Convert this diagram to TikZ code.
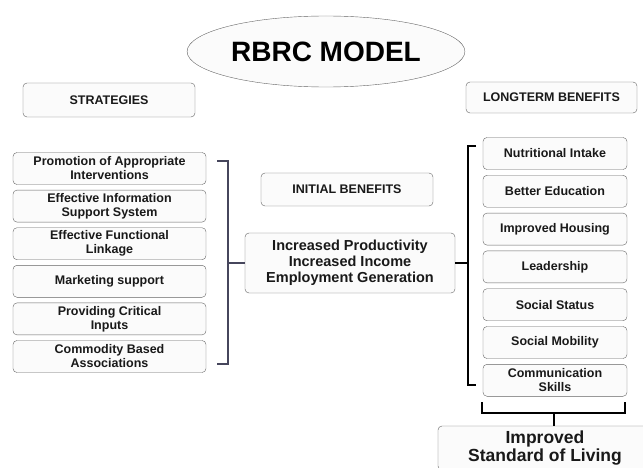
\documentclass[tikz,border=0pt]{standalone}
\usepackage{fontspec}
\setmainfont{Liberation Sans}
\usetikzlibrary{shapes.geometric}
\definecolor{boxline}{RGB}{100,100,100}
\definecolor{bracketblue}{RGB}{70,70,92}
\tikzset{
  box/.style={draw=boxline, fill=gray!3, rounded corners=4pt, align=center,
    inner sep=2pt, text=black!90, font=\bfseries\fontsize{12.5}{14}\selectfont},
  leftbox/.style={box, minimum width=193pt, minimum height=32pt},
  rightbox/.style={box, minimum width=144pt, minimum height=32pt},
  bracket/.style={line width=2.2pt},
}
\begin{document}
\begin{tikzpicture}[x=1pt,y=-1pt]
    \useasboundingbox (0,0) rectangle (643,468);
    \clip (0,0) rectangle (643,468);

    \node[ellipse, draw=boxline, fill=gray!3, minimum width=264pt, minimum height=71pt,
      font=\bfseries\fontsize{28}{30}\selectfont] (title) at (326,51.5) {RBRC MODEL};

    \node[box, minimum width=172pt, minimum height=34pt] (strat) at (109,100) {STRATEGIES};
    \node[box, minimum width=171pt, minimum height=31pt] (longterm) at (551.5,97.5) {LONGTERM BENEFITS};

    \node[leftbox] (s1) at (109.5,168.5) {Promotion of Appropriate\\Interventions};
    \node[leftbox] (s2) at (109.5,206.1) {Effective Information\\Support System};
    \node[leftbox] (s3) at (109.5,243.7) {Effective Functional\\Linkage};
    \node[leftbox] (s4) at (109.5,281.3) {Marketing support};
    \node[leftbox] (s5) at (109.5,318.9) {Providing Critical\\Inputs};
    \node[leftbox] (s6) at (109.5,356.5) {Commodity Based\\Associations};

    \node[box, minimum width=172pt, minimum height=33pt] (initial) at (347,189.5) {INITIAL BENEFITS};
    \node[box, minimum width=210pt, minimum height=60pt,
      font=\bfseries\fontsize{14.5}{16}\selectfont] (gain) at (350,263)
      {Increased Productivity\\Increased Income\\Employment Generation};

    \node[rightbox] (b1) at (555,153.5) {Nutritional Intake};
    \node[rightbox] (b2) at (555,191.3) {Better Education};
    \node[rightbox] (b3) at (555,229.1) {Improved Housing};
    \node[rightbox] (b4) at (555,266.9) {Leadership};
    \node[rightbox] (b5) at (555,304.7) {Social Status};
    \node[rightbox] (b6) at (555,342.5) {Social Mobility};
    \node[rightbox] (b7) at (555,380.3) {Communication\\Skills};

    \node[box, minimum width=214pt, minimum height=44pt,
      font=\bfseries\fontsize{17.5}{18}\selectfont] (living) at (545,448)
      {Improved\\Standard of Living};

    \coordinate (lt) at (217,161);
    \coordinate (ltc) at (228,161);
    \coordinate (lbc) at (228,364);
    \coordinate (lb) at (217,364);
    \coordinate (lm) at (228,263);
    \draw[bracket, bracketblue] (lt) -- (ltc) -- (lbc) -- (lb);
    \draw[bracket, bracketblue] (lm) -- (gain.west);

    \coordinate (rt) at (476,146);
    \coordinate (rtc) at (468,146);
    \coordinate (rbc) at (468,385);
    \coordinate (rb) at (476,385);
    \coordinate (rm) at (468,263);
    \draw[bracket] (rt) -- (rtc) -- (rbc) -- (rb);
    \draw[bracket] (rm) -- (gain.east);

    \coordinate (bl) at (482,402);
    \coordinate (blc) at (482,413);
    \coordinate (brc) at (625,413);
    \coordinate (br) at (625,402);
    \coordinate (bm) at (554,413);
    \draw[bracket] (bl) -- (blc) -- (brc) -- (br);
    \draw[bracket] (bm) -- (bm |- living.north);
  \end{tikzpicture}
\end{document}
